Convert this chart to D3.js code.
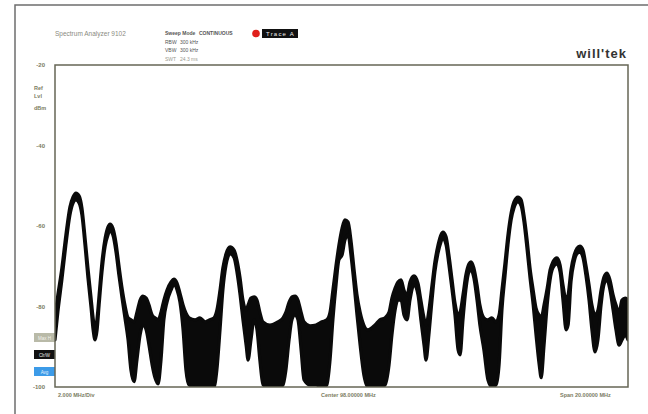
<!DOCTYPE html>
<html lang="en">
<head>
<meta charset="UTF-8">
<title>Spectrum Analyzer 9102</title>
<script src="https://d3js.org/d3.v7.min.js"></script>
<style>
    body { margin: 0; background: #fff; }
    svg { display: block; font-family: "Liberation Sans", Arial, sans-serif; }
</style>
</head>
<body>
<svg width="648" height="414"></svg>
<script>
// trace readings: frequency (MHz), upper and lower edge of the trace band (dBm)
const freq = [88.00, 88.10, 88.24, 88.38, 88.52, 88.63, 88.73, 88.84, 88.94, 89.05, 89.15, 89.26, 89.33, 89.40, 89.47, 89.54, 89.64, 89.75, 89.85, 89.92,
    90.02, 90.13, 90.23, 90.34, 90.44, 90.55, 90.65, 90.76, 90.86, 90.97, 91.07, 91.18, 91.28, 91.39, 91.49, 91.60, 91.70, 91.80, 91.91, 92.05,
    92.15, 92.26, 92.36, 92.47, 92.57, 92.68, 92.89, 93.06, 93.24, 93.41, 93.55, 93.65, 93.76, 93.86, 93.97, 94.11, 94.25, 94.35, 94.46, 94.56,
    94.67, 94.74, 94.84, 94.95, 95.05, 95.15, 95.26, 95.50, 95.78, 95.96, 96.06, 96.17, 96.27, 96.38, 96.48, 96.59, 96.69, 96.90, 97.11, 97.32,
    97.49, 97.60, 97.70, 97.81, 97.91, 98.02, 98.12, 98.23, 98.33, 98.44, 98.54, 98.65, 98.78, 98.92, 99.17, 99.34, 99.52, 99.66, 99.76, 99.87,
    99.97, 100.08, 100.18, 100.29, 100.39, 100.53, 100.67, 100.77, 100.88, 100.95, 101.05, 101.16, 101.26, 101.37, 101.47, 101.54, 101.65, 101.75, 101.86, 101.96,
    102.07, 102.14, 102.24, 102.34, 102.45, 102.52, 102.62, 102.73, 102.83, 102.97, 103.11, 103.25, 103.39, 103.50, 103.60, 103.71, 103.81, 103.92, 104.02, 104.16,
    104.27, 104.37, 104.48, 104.58, 104.69, 104.79, 104.90, 104.97, 105.07, 105.18, 105.28, 105.38, 105.52, 105.63, 105.73, 105.84, 105.91, 106.01, 106.12, 106.22,
    106.32, 106.43, 106.53, 106.64, 106.74, 106.85, 106.95, 107.06, 107.16, 107.27, 107.37, 107.48, 107.58, 107.69, 107.79, 107.90, 108.00];

const levelHigh = [-82.1, -77.1, -70.4, -62.2, -55.3, -52.8, -51.8, -52.5, -55.5, -63.0, -70.4, -77.9, -82.8, -85.8, -82.8, -77.1, -68.9, -63.0, -60.2, -59.5,
    -60.5, -64.2, -69.7, -75.4, -79.6, -82.8, -83.3, -83.8, -81.4, -78.4, -77.4, -77.9, -79.6, -82.1, -82.8, -83.3, -81.4, -78.4, -75.9, -73.9,
    -73.2, -74.2, -76.6, -79.6, -81.6, -82.8, -83.3, -82.8, -83.8, -83.3, -82.8, -80.9, -75.9, -70.4, -66.9, -65.2, -66.0, -68.4, -72.9, -78.4,
    -80.9, -79.6, -77.9, -77.6, -78.4, -81.4, -83.8, -84.6, -83.8, -82.8, -81.4, -78.9, -77.6, -77.4, -78.4, -81.4, -83.8, -84.8, -84.6, -83.8,
    -83.3, -81.4, -75.9, -69.7, -64.7, -60.5, -58.5, -59.0, -63.5, -70.9, -77.1, -81.4, -84.6, -85.8, -84.6, -83.3, -82.8, -81.4, -77.9, -75.4,
    -73.9, -73.4, -75.9, -77.1, -73.9, -72.4, -74.2, -78.4, -82.8, -84.6, -80.9, -74.6, -68.9, -64.7, -62.2, -61.5, -62.7, -67.2, -73.4, -79.1,
    -82.1, -81.4, -77.1, -72.2, -69.4, -68.9, -70.4, -74.6, -79.6, -82.8, -83.3, -82.8, -83.8, -82.1, -75.9, -68.9, -62.2, -56.8, -54.0, -52.8,
    -53.5, -57.3, -63.5, -70.4, -75.9, -80.4, -82.1, -82.8, -79.6, -75.4, -70.9, -68.9, -67.9, -69.7, -74.6, -78.4, -77.1, -70.9, -67.2, -65.5,
    -65.0, -66.0, -69.7, -74.6, -79.6, -82.1, -80.9, -75.9, -72.7, -71.7, -73.4, -77.1, -79.6, -81.4, -78.4, -77.9, -78.4];

const levelLow = [-88.3, -81.4, -73.4, -64.7, -57.3, -54.3, -53.5, -54.3, -57.3, -65.0, -72.9, -80.4, -85.8, -88.3, -85.8, -79.6, -71.4, -65.0, -62.2, -61.2,
    -62.2, -66.5, -72.2, -77.9, -82.8, -88.3, -95.8, -98.7, -93.3, -87.1, -84.6, -85.8, -89.6, -94.5, -97.7, -99.2, -93.3, -83.3, -78.9, -75.9,
    -74.6, -75.9, -78.9, -85.8, -95.8, -99.5, -100, -100, -100, -100, -100, -95.8, -85.8, -75.9, -69.7, -66.9, -67.9, -71.4, -77.1, -83.3,
    -89.6, -93.3, -88.3, -83.3, -85.8, -93.3, -99.5, -100, -100, -99.5, -95.8, -88.3, -83.3, -82.1, -83.3, -90.8, -98.2, -99.5, -99.5, -100,
    -99.5, -93.3, -83.3, -74.6, -68.4, -67.2, -63.5, -62.2, -67.2, -74.6, -82.1, -89.6, -97.0, -100, -100, -100, -99.5, -94.5, -87.1, -80.9,
    -78.4, -78.4, -82.1, -83.3, -78.4, -74.6, -77.1, -83.3, -89.6, -93.3, -87.1, -78.4, -71.4, -66.7, -64.0, -63.0, -64.7, -69.7, -75.9, -82.1,
    -90.8, -92.0, -83.3, -75.9, -71.4, -70.9, -72.9, -78.4, -84.6, -90.8, -98.2, -100, -99.5, -94.5, -80.9, -72.2, -64.7, -58.5, -55.5, -54.0,
    -55.0, -59.0, -66.0, -72.9, -79.6, -87.1, -94.5, -97.7, -89.6, -79.6, -73.4, -70.4, -69.4, -71.4, -78.4, -85.8, -84.6, -73.9, -68.9, -66.9,
    -66.5, -67.9, -72.2, -78.4, -85.8, -91.3, -88.3, -79.6, -74.6, -73.4, -75.9, -80.9, -85.8, -89.6, -88.3, -87.1, -88.3];

const levelTicks = [-20, -40, -60, -80, -100];
const refLabels = ["Ref", "Lvl", "dBm"];
const sideButtons = [
    { label: "Max H", fill: "#b9baa8", color: "#f4f4ee" },
    { label: "Clr/W", fill: "#111111", color: "#e8e8e8" },
    { label: "Avg", fill: "#3c9be8", color: "#e6f2ff" }
];
const settings = [
    ["Sweep Mode", "CONTINUOUS"],
    ["RBW", "300 kHz"],
    ["VBW", "300 kHz"],
    ["SWT", "24.3 ms"]
];

const svg = d3.select("svg");
const labelColor = "#7b7c62";

// outer border of the scan (left and top only)
svg.append("path")
    .attr("d", "M15,414 L15,5 L648,5")
    .attr("fill", "none")
    .attr("stroke", "#6e6e6e")
    .attr("stroke-width", 1.5);

const plot = { left: 55, top: 65, right: 628, bottom: 387 };

const x = d3.scaleLinear().domain([88, 108]).range([plot.left, plot.right]);
const y = d3.scaleLinear().domain([-100, -20]).range([plot.bottom, plot.top]);

// header texts
svg.append("text")
    .attr("x", 55).attr("y", 36)
    .attr("font-size", 6.5)
    .attr("fill", "#8a8a80")
    .text("Spectrum Analyzer 9102");

settings.forEach(function (s, i) {
    const yy = [35, 44, 52, 61][i];
    const t = svg.append("text")
        .attr("x", 165).attr("y", yy)
        .attr("font-size", 5)
        .attr("fill", i == 3 ? "#9a9a90" : "#555")
        .attr("font-weight", i == 0 ? "bold" : "normal");
    t.append("tspan").text(s[0]);
    t.append("tspan").attr("x", i == 0 ? 199 : 180).text(s[1]);
});

svg.append("circle")
    .attr("cx", 256).attr("cy", 33.5).attr("r", 3.8)
    .attr("fill", "#e0201c");
svg.append("rect")
    .attr("x", 262).attr("y", 29).attr("width", 36).attr("height", 9)
    .attr("fill", "#111");
svg.append("text")
    .attr("x", 266).attr("y", 36)
    .attr("font-size", 6)
    .attr("fill", "#eee")
    .attr("letter-spacing", 1.2)
    .text("Trace A");

svg.append("text")
    .attr("x", 627).attr("y", 58)
    .attr("text-anchor", "end")
    .attr("font-size", 13)
    .attr("font-weight", "bold")
    .attr("letter-spacing", 1)
    .attr("fill", "#333")
    .text("will'tek");

// level axis on the left
const yAxis = svg.append("g")
    .attr("transform", "translate(" + (plot.left - 7) + ",0)")
    .call(d3.axisLeft(y).tickValues(levelTicks).tickSize(0).tickFormat(d => d));
yAxis.select(".domain").remove();
yAxis.selectAll("text")
    .attr("font-size", 6)
    .attr("font-weight", "bold")
    .attr("fill", labelColor)
    .attr("font-family", "Liberation Sans, Arial, sans-serif");

refLabels.forEach(function (r, i) {
    svg.append("text")
        .attr("x", 34).attr("y", [90, 98, 110][i])
        .attr("font-size", 5.5)
        .attr("font-weight", "bold")
        .attr("fill", labelColor)
        .text(r);
});

sideButtons.forEach(function (b, i) {
    const top = 333 + i * 17;
    svg.append("rect")
        .attr("x", 34).attr("y", top).attr("width", 21).attr("height", 9)
        .attr("fill", b.fill);
    svg.append("text")
        .attr("x", 44.5).attr("y", top + 6.5)
        .attr("text-anchor", "middle")
        .attr("font-size", 4.5)
        .attr("fill", b.color)
        .text(b.label);
});

// bottom texts
const bottomY = 397;
svg.append("text").attr("x", 58).attr("y", bottomY)
    .attr("font-size", 5.5).attr("font-weight", "bold").attr("fill", labelColor)
    .text("2.000 MHz/Div");
svg.append("text").attr("x", 321).attr("y", bottomY)
    .attr("font-size", 5.5).attr("font-weight", "bold").attr("fill", labelColor)
    .text("Center  98.00000 MHz");
svg.append("text").attr("x", 560).attr("y", bottomY)
    .attr("font-size", 5.5).attr("font-weight", "bold").attr("fill", labelColor)
    .text("Span  20.00000 MHz");

// the trace band
const trace = freq.map((f, i) => ({ f: f, hi: levelHigh[i], lo: levelLow[i] }));

const band = d3.area()
    .x(d => x(d.f))
    .y0(d => y(d.lo))
    .y1(d => y(d.hi))
    .curve(d3.curveMonotoneX);

svg.append("defs").append("clipPath").attr("id", "clip")
    .append("rect")
    .attr("x", plot.left).attr("y", plot.top)
    .attr("width", plot.right - plot.left).attr("height", plot.bottom - plot.top);

svg.append("path")
    .datum(trace)
    .attr("clip-path", "url(#clip)")
    .attr("d", band)
    .attr("fill", "#0a0a0a")
    .attr("stroke", "#0a0a0a")
    .attr("stroke-width", 3.2)
    .attr("stroke-linejoin", "round");

// plot frame
svg.append("rect")
    .attr("x", plot.left).attr("y", plot.top)
    .attr("width", plot.right - plot.left).attr("height", plot.bottom - plot.top)
    .attr("fill", "none")
    .attr("stroke", "#666655")
    .attr("stroke-width", 1.5);
</script>
</body>
</html>
